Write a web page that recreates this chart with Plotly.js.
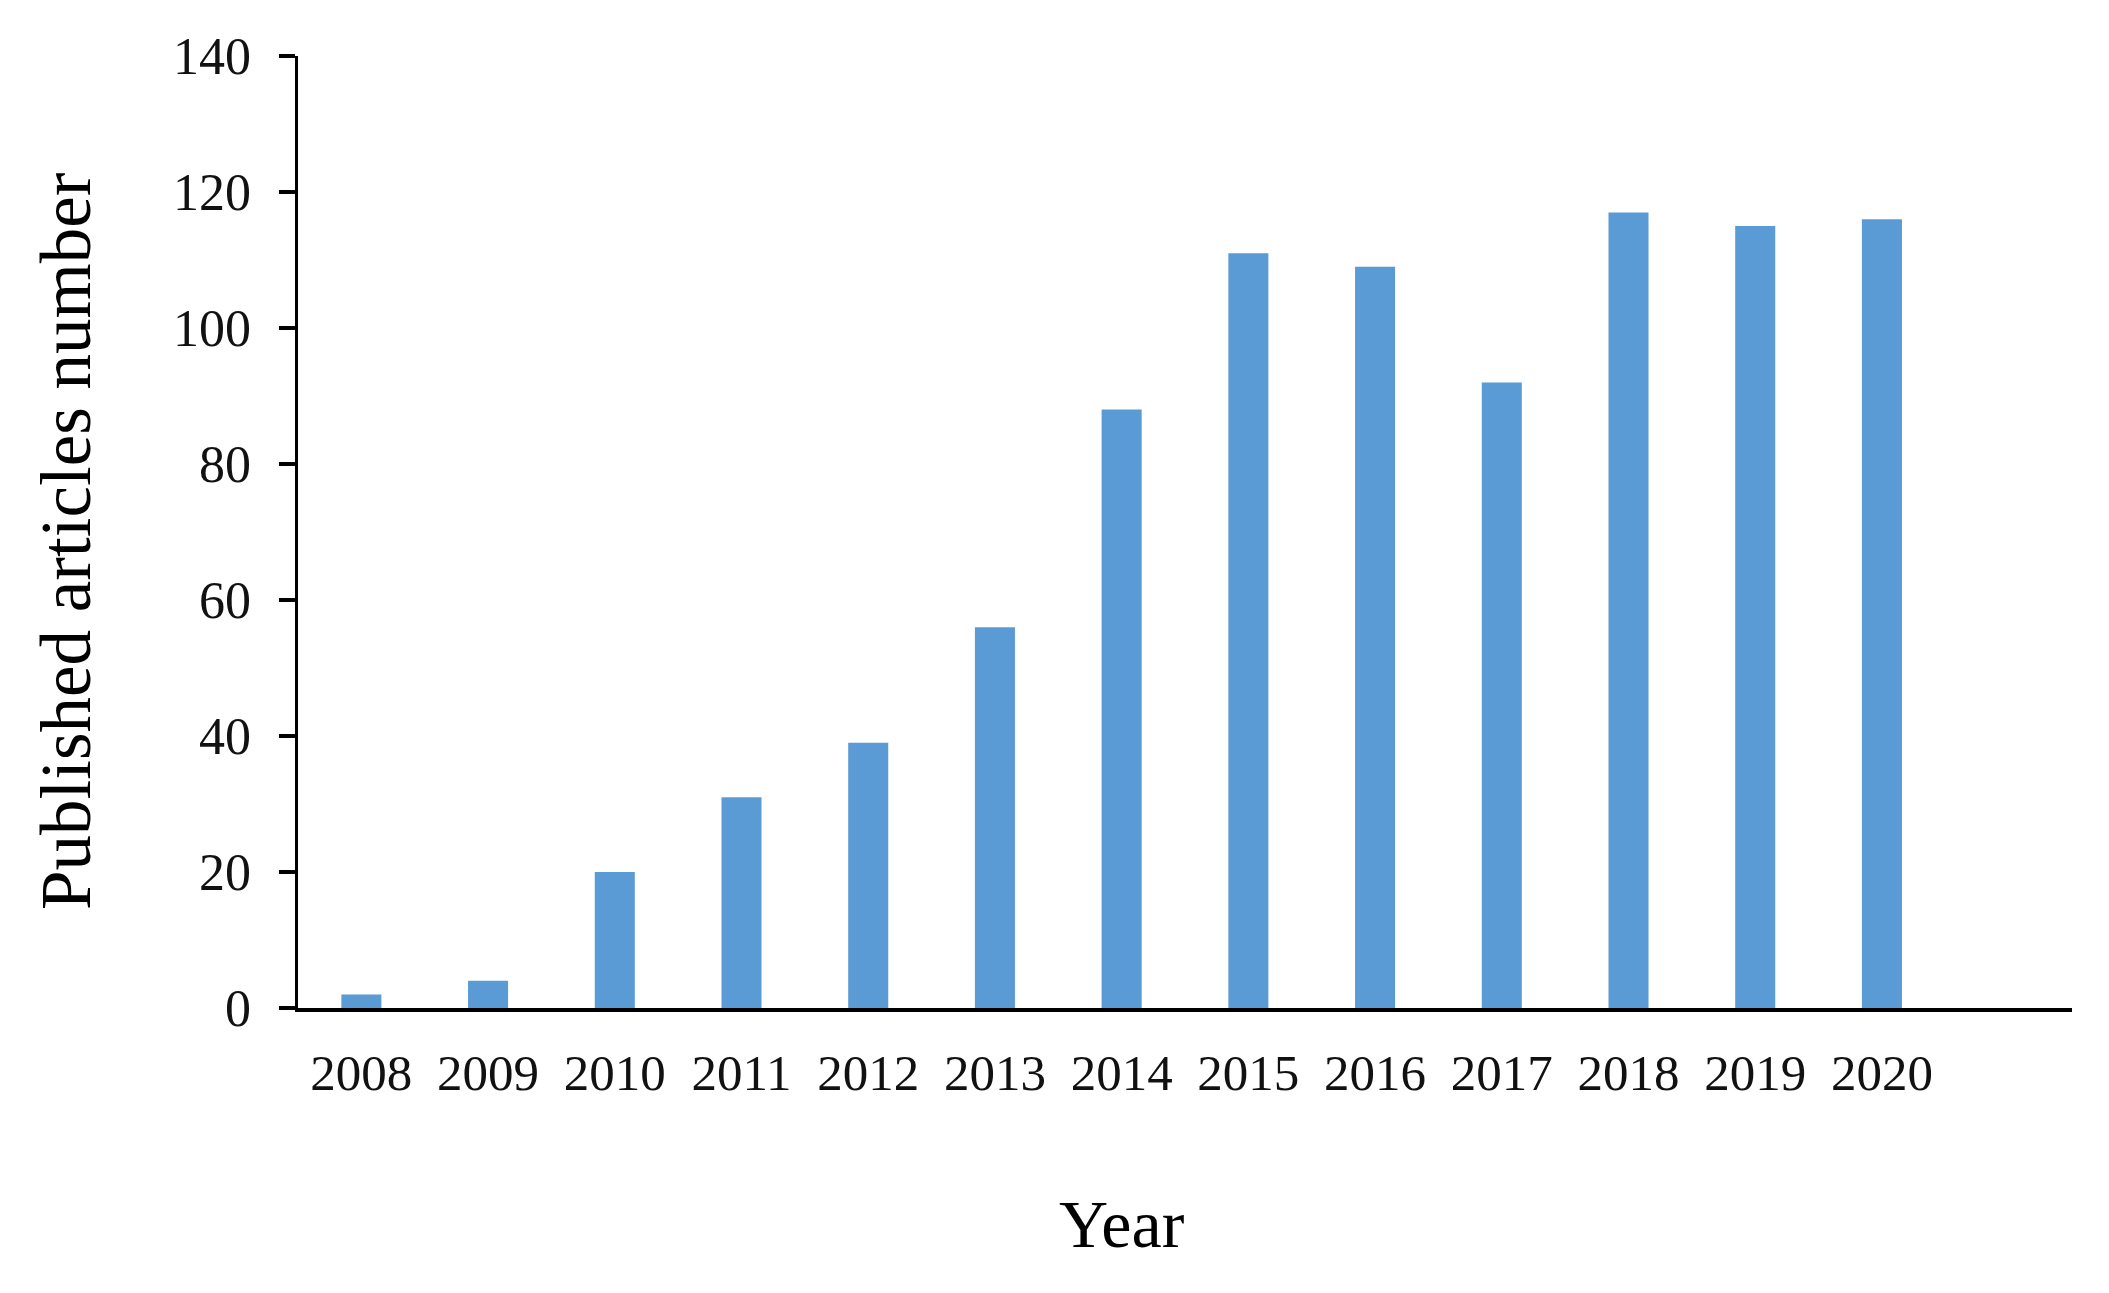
<!DOCTYPE html>
<html>
<head>
<meta charset="utf-8">
<script src="https://cdn.plot.ly/plotly-3.0.1.min.js"></script>
<style>html,body{margin:0;padding:0;background:#fff;}#chart{width:2109px;height:1293px;}</style>
</head>
<body>
<div id="chart"></div>
<script>
const years = ["2008","2009","2010","2011","2012","2013","2014","2015","2016","2017","2018","2019","2020"];
const articles = [2, 4, 20, 31, 39, 56, 88, 111, 109, 92, 117, 115, 116];
const yTicks = [0, 20, 40, 60, 80, 100, 120, 140];
const xTitle = "Year";
const yTitle = "Published articles number";

const font = "Liberation Serif, Times New Roman, serif";

Plotly.newPlot("chart", [{
  type: "bar",
  x: years,
  y: articles,
  marker: {color: "#5B9BD5", line: {width: 0}},
  hoverinfo: "x+y"
}], {
  width: 2109,
  height: 1293,
  margin: {l: 298, r: 37, t: 56, b: 285},
  paper_bgcolor: "#ffffff",
  plot_bgcolor: "#ffffff",
  bargap: 0.684,
  showlegend: false,
  font: {family: font, color: "#000"},
  xaxis: {
    type: "category",
    range: [-0.5, 13.5],
    showline: true,
    linecolor: "#000",
    linewidth: 4,
    ticks: "",
    showgrid: false,
    zeroline: false,
    tickfont: {family: font, size: 51, color: "#111"},
    ticklabelstandoff: 17
  },
  yaxis: {
    range: [0, 140],
    tickvals: yTicks,
    ticktext: yTicks.map(String),
    showline: true,
    linecolor: "#000",
    linewidth: 3.5,
    ticks: "outside",
    ticklen: 16,
    tickwidth: 3.5,
    tickcolor: "#000",
    showgrid: false,
    zeroline: false,
    tickfont: {family: font, size: 52, color: "#111"},
    ticklabelstandoff: 17
  },
  annotations: [
    {text: xTitle, xref: "x", yref: "paper", x: 6, y: -0.227, xanchor: "center", yanchor: "middle",
     showarrow: false, font: {family: font, size: 68, color: "#000"}},
    {text: yTitle, xref: "paper", yref: "paper", x: -0.1308, y: 0.4905, xanchor: "center", yanchor: "middle",
     textangle: -90, showarrow: false, font: {family: font, size: 71, color: "#000"}}
  ]
}, {displayModeBar: false, staticPlot: true});
</script>
</body>
</html>
